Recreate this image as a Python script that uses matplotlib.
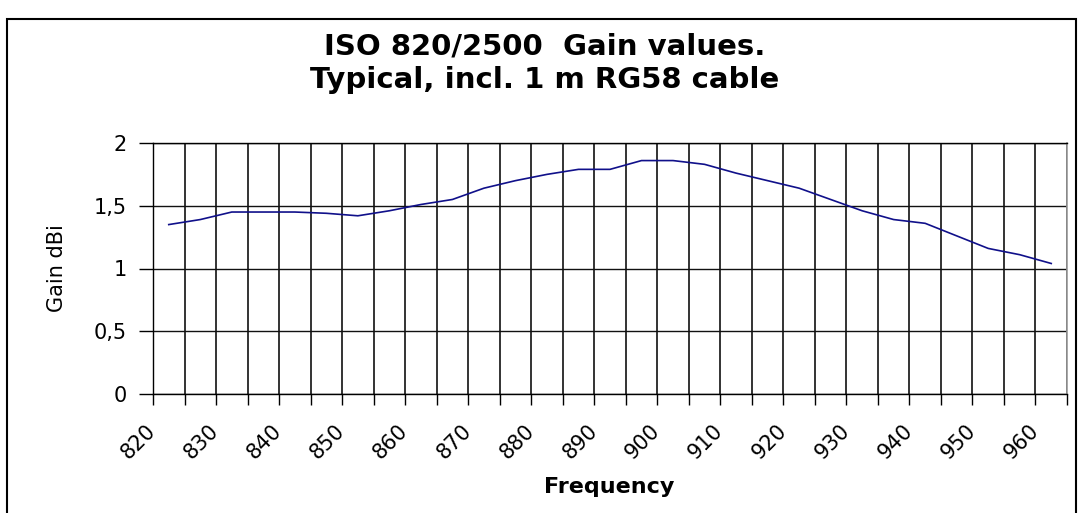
import matplotlib
matplotlib.use('Agg')
import matplotlib.pyplot as plt
from matplotlib.transforms import ScaledTranslation
from matplotlib.patches import Rectangle
import numpy as np

freqs = [820, 825, 830, 835, 840, 845, 850, 855, 860, 865,
         870, 875, 880, 885, 890, 895, 900, 905, 910, 915,
         920, 925, 930, 935, 940, 945, 950, 955, 960]
gain = [1.35, 1.39, 1.45, 1.45, 1.45, 1.44, 1.42, 1.46, 1.51, 1.55,
        1.64, 1.70, 1.75, 1.79, 1.79, 1.86, 1.86, 1.83, 1.76, 1.70,
        1.64, 1.55, 1.46, 1.39, 1.36, 1.26, 1.16, 1.11, 1.04]
x_tick_labels = [str(f) for f in freqs[::2]]
y_ticks = [0, 0.5, 1, 1.5, 2]
y_tick_labels = ['0', '0,5', '1', '1,5', '2']

title_line1 = 'ISO 820/2500  Gain values.'
title_line2 = 'Typical, incl. 1 m RG58 cable'
x_label = 'Frequency'
y_label = 'Gain dBi'

W, H = 1081, 513
fig = plt.figure(figsize=(W / 100, H / 100), dpi=100)
fig.patch.set_facecolor('white')

ax = fig.add_axes([153 / W, (H - 394) / H, (1067 - 153) / W, (394 - 143) / H])

pos = np.arange(len(freqs))
ax.plot(pos, gain, color='#10108a', lw=1.2, zorder=3)

ax.set_xlim(-0.5, len(freqs) - 0.5)
ax.set_ylim(0, 2)

# category boundaries -> vertical gridlines & tick marks
bounds = np.arange(len(freqs) + 1) - 0.5
ax.set_xticks(bounds)
ax.set_xticklabels([])
ax.tick_params(axis='x', which='major', length=8, width=1, direction='out', color='black')
ax.grid(axis='x', which='major', color='#111111', lw=1.2)

# labels at category centres, every other category
ax.set_xticks(pos[::2], minor=True)
ax.set_xticklabels(x_tick_labels, minor=True, rotation=45, ha='right', va='center',
                   rotation_mode='anchor', fontsize=15)
ax.tick_params(axis='x', which='minor', length=0, pad=24)
off = ScaledTranslation(-16 / 100, 0, fig.dpi_scale_trans)
for lab in ax.get_xticklabels(minor=True):
    lab.set_transform(lab.get_transform() + off)

ax.set_yticks(y_ticks)
ax.set_yticklabels(y_tick_labels, fontsize=15)
ax.tick_params(axis='y', length=10, width=1, direction='out', color='black', pad=9)
ax.grid(axis='y', color='#111111', lw=1)
ax.set_axisbelow(True)

for s in ['left', 'bottom', 'top']:
    ax.spines[s].set_color('black')
    ax.spines[s].set_linewidth(1)
ax.spines['right'].set_color('#9a9a9a')
ax.spines['right'].set_linewidth(1.2)

ax.set_ylabel(y_label, fontsize=15, va='center')
ax.yaxis.set_label_coords((57 - 153) / (1067 - 153), 0.5)

fig.text(545 / W, 1 - 55 / H, title_line1, ha='center', va='baseline',
         fontsize=21, fontweight='bold')
fig.text(545 / W, 1 - 88 / H, title_line2, ha='center', va='baseline',
         fontsize=21, fontweight='bold')
fig.text(609 / W, 1 - 493 / H, x_label, ha='center', va='baseline',
         fontsize=16, fontweight='bold')

fig.patches.append(Rectangle((7 / W, -0.05), (1076 - 7) / W, (H - 19) / H + 0.05,
                             transform=fig.transFigure, fill=False,
                             ec='black', lw=1.5))

fig.savefig('out.png', dpi=100)
